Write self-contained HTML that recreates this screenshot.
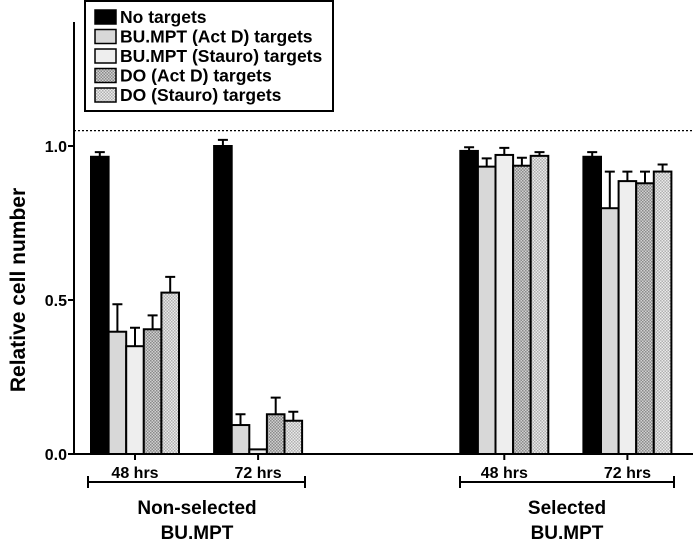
<!DOCTYPE html>
<html><head><meta charset="utf-8"><style>
body{margin:0;background:#fff;}
svg{display:block;font-family:"Liberation Sans",Arial,sans-serif;font-weight:bold;}
</style></head><body>
<svg id="chart" width="693" height="540" viewBox="0 0 693 540">
<defs>
<pattern id="dotDark" width="3" height="3" patternUnits="userSpaceOnUse"><rect width="3" height="3" fill="#d0d0d0"/><rect width="1.5" height="1.5" fill="#8a8a8a"/><rect x="1.5" y="1.5" width="1.5" height="1.5" fill="#8a8a8a"/></pattern>
<pattern id="dotLight" width="3" height="3" patternUnits="userSpaceOnUse"><rect width="3" height="3" fill="#eaeaea"/><rect width="1.5" height="1.5" fill="#b0b0b0"/><rect x="1.5" y="1.5" width="1.5" height="1.5" fill="#b0b0b0"/></pattern>
</defs>
<g id="plot"></g>
</svg>
<script>
const seriesNames = ["No targets","BU.MPT (Act D) targets","BU.MPT (Stauro) targets","DO (Act D) targets","DO (Stauro) targets"];
const categories = ["48 hrs","72 hrs","","48 hrs","72 hrs"];
const catSlots = [0,1,3,4];
const noTargets = [0.965,1.0,0.984,0.965];
const noTargetsErr = [0.98,1.02,0.996,0.98];
const actD = [0.397,0.094,0.933,0.798];
const actDErr = [0.486,0.129,0.96,0.917];
const stauro = [0.35,0.015,0.971,0.886];
const stauroErr = [0.41,0.015,0.994,0.917];
const doActD = [0.405,0.129,0.936,0.879];
const doActDErr = [0.45,0.183,0.962,0.917];
const doStauro = [0.524,0.108,0.968,0.917];
const doStauroErr = [0.575,0.137,0.98,0.94];
const yTicks = [0,0.5,1.0];
const yTickLabels = ["0.0","0.5","1.0"];
const refLine = 1.05;

const NS="http://www.w3.org/2000/svg";
const g=document.getElementById('plot');
function y(v){return 454 - v*308;}
function xc(slot){return 135 + slot*123.1;}
function mk(tag,attrs,parent){const e=document.createElementNS(NS,tag);for(const k in attrs)e.setAttribute(k,attrs[k]);(parent||g).appendChild(e);return e;}
const fills=["#000","#d8d8d8","#eeeeee","url(#dotDark)","url(#dotLight)"];
const vals=[noTargets,actD,stauro,doActD,doStauro];
const errs=[noTargetsErr,actDErr,stauroErr,doActDErr,doStauroErr];
const bw=17.6;

let rl=mk('line',{x1:74,x2:692,y1:y(refLine),y2:y(refLine),stroke:'#000','stroke-width':1.3,'stroke-dasharray':'2,2'});



catSlots.forEach((slot,ci)=>{
  const c=xc(slot);
  for(let s=0;s<5;s++){
    const x0=c-2.5*bw+s*bw;
    const e=errs[s][ci];
    if(e>vals[s][ci]){
      const el=mk('path',{d:`M${x0+bw/2},${y(vals[s][ci])}V${y(e)}M${x0+bw/2-5},${y(e)}H${x0+bw/2+5}`,stroke:'#000','stroke-width':2,fill:'none'});
      
      
    }
    const r=mk('rect',{x:x0,y:y(vals[s][ci]),width:bw,height:y(0)-y(vals[s][ci]),fill:fills[s],stroke:'#000','stroke-width':2});
    
    
  }
  const t=mk('line',{x1:c,x2:c,y1:454,y2:460,stroke:'#000','stroke-width':2});
  
  
  const tl=mk('text',{x:c,y:478,'text-anchor':'middle','font-size':16});
  tl.textContent=categories[slot];
  
  
});

let ya=mk('line',{x1:74,x2:74,y1:22,y2:455,stroke:'#000','stroke-width':2});


let xa=mk('line',{x1:73,x2:693,y1:454,y2:454,stroke:'#000','stroke-width':2});


yTicks.forEach((v,i)=>{
  const t=mk('line',{x1:68,x2:74,y1:y(v),y2:y(v),stroke:'#000','stroke-width':2});
  
  
  const l=mk('text',{x:67,y:y(v)+6,'text-anchor':'end','font-size':16});
  l.textContent=yTickLabels[i];
  
  
});
let yt=mk('text',{x:0,y:0,'text-anchor':'middle','font-size':21,transform:'translate(25,290) rotate(-90)'});
yt.textContent='Relative cell number';



[[88,305,482,197,"Non-selected"],[460,674,482,567,"Selected"]].forEach((b,i)=>{
  const p=mk('path',{d:`M${b[0]},${b[2]-6}V${b[2]+6}M${b[0]},${b[2]}H${b[1]}M${b[1]},${b[2]-6}V${b[2]+6}`,stroke:'#000','stroke-width':2,fill:'none'});
  
  
  const t1=mk('text',{x:b[3],y:514,'text-anchor':'middle','font-size':19});
  t1.textContent=b[4];
  
  
  const t2=mk('text',{x:b[3],y:539,'text-anchor':'middle','font-size':19});
  t2.textContent='BU.MPT';
  
  
});

const lg=mk('g',{});


mk('rect',{x:85,y:1,width:248,height:110,fill:'#fff',stroke:'#000','stroke-width':2},lg);
seriesNames.forEach((n,i)=>{
  const cy=17+i*19.5;
  const e=mk('g',{},lg);
  
  
  mk('rect',{x:95,y:cy-7,width:21,height:14,fill:fills[i],stroke:'#000','stroke-width':1.5},e);
  const t=mk('text',{x:120,y:cy+6,'font-size':17.5},e);
  t.textContent=n;
});
</script>
</body></html>
